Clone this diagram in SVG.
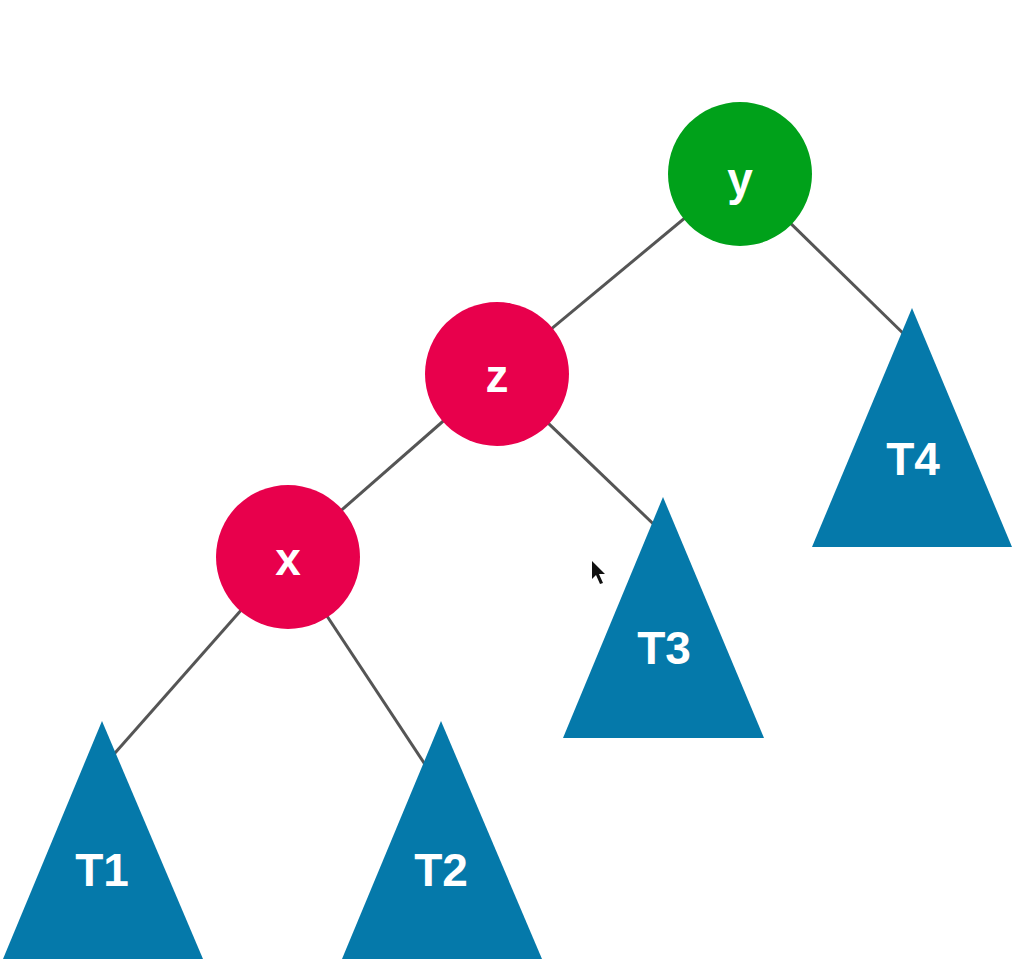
<svg xmlns="http://www.w3.org/2000/svg" width="1022" height="978" viewBox="0 0 1022 978">
  <style>
    .edge { stroke: #555555; stroke-width: 3; fill: none; }
    .red { fill: #E8004C; }
    .green { fill: #00A11A; }
    .tri { fill: #0579AA; }
    .lbl { fill: #ffffff; font-family: "Liberation Sans", Arial, sans-serif; font-weight: bold; font-size: 46px; text-anchor: middle; }
  </style>
  <rect x="0" y="0" width="1022" height="978" fill="#ffffff"/>
  <g id="connectors">
    <line class="edge" x1="739" y1="173" x2="497" y2="374"/>
    <line class="edge" x1="739" y1="173" x2="910" y2="340"/>
    <line class="edge" x1="497" y1="374" x2="288" y2="557"/>
    <line class="edge" x1="497" y1="374" x2="668" y2="538"/>
    <line class="edge" x1="288" y1="557" x2="100" y2="770"/>
    <line class="edge" x1="288" y1="557" x2="432" y2="775"/>
  </g>
  <g id="node-y">
    <circle class="green" cx="740" cy="174" r="72"/>
    <text class="lbl" x="740" y="195">y</text>
  </g>
  <g id="node-z">
    <circle class="red" cx="497" cy="374" r="72"/>
    <text class="lbl" x="497" y="392">z</text>
  </g>
  <g id="node-x">
    <circle class="red" cx="288" cy="557" r="72"/>
    <text class="lbl" x="288" y="575">x</text>
  </g>
  <g id="node-T1">
    <polygon class="tri" points="102,721 203,959 3,959"/>
    <text class="lbl" x="102" y="886">T1</text>
  </g>
  <g id="node-T2">
    <polygon class="tri" points="441,721 542,959 342,959"/>
    <text class="lbl" x="441" y="886">T2</text>
  </g>
  <g id="node-T3">
    <polygon class="tri" points="663,497 764,738 563,738"/>
    <text class="lbl" x="664" y="664">T3</text>
  </g>
  <g id="node-T4">
    <polygon class="tri" points="912,308 1012,547 812,547"/>
    <text class="lbl" x="913" y="475">T4</text>
  </g>
  <polygon points="592,561 592,579 596,575 600,584 603,583 599,574 605,574" fill="#111111"/>
</svg>
